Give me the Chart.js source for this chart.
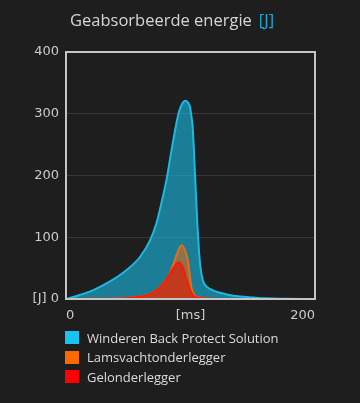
<!DOCTYPE html>
<html>
<head>
<meta charset="utf-8">
<script src="https://cdn.jsdelivr.net/npm/chart.js@4"></script>
<style>
  html, body { margin: 0; padding: 0; background: #1e1e1e; width: 360px; height: 403px; overflow: hidden; }
  #wrap { position: relative; width: 360px; height: 403px; }
  #title { position: absolute; left: 70px; top: 9px; font: 16.5px "Open Sans", sans-serif; color: #d6d6d6; line-height: 22px; white-space: nowrap; }
  #title .unit { color: #1aaee0; margin-left: 7px; }
  #legend { position: absolute; left: 65px; top: 328px; font: 13px "Open Sans", sans-serif; color: #dcdcdc; }
  #legend .row { display: flex; align-items: center; height: 19.5px; white-space: nowrap; }
  #legend .box { width: 14px; height: 13px; margin-right: 8px; }
  canvas { position: absolute; left: 0; top: 0; }
</style>
</head>
<body>
<div id="wrap">
  <canvas id="c" width="360" height="403"></canvas>
  <div id="title">Geabsorbeerde energie<span class="unit">[J]</span></div>
  <div id="legend"></div>
</div>
<script>
// Series labels
const seriesLabels = ["Winderen Back Protect Solution", "Lamsvachtonderlegger", "Gelonderlegger"];

// Winderen Back Protect Solution: time [ms] and energy [J]
const xWinderen = [0, 11, 22, 35, 48.7, 59.4, 67.5, 72.8, 76.8, 80.9, 83.5, 85, 87.5, 89, 91, 93, 95.8, 98, 99.6, 101, 101.7, 103.6, 105.5, 107.6, 109.8, 113, 118, 124, 130, 140, 150, 160, 175, 200];
const yWinderen = [0, 6.5, 14.5, 28, 47, 68, 95, 124, 157, 195, 226, 244, 272, 288, 305, 315, 321, 318, 311, 292, 280, 203, 122, 58, 31, 20, 14, 10, 7, 4, 2.5, 1.2, 0.5, 0];

// Lamsvachtonderlegger
const xLamsvacht = [0, 40, 50, 60, 67.5, 72.8, 78.2, 83.5, 86.2, 88.9, 92.9, 96.4, 98.2, 99.6, 100.9, 103.6, 108, 115, 130, 200];
const yLamsvacht = [0, 0.3, 1.5, 4, 8, 14.5, 25, 42, 56, 72, 87, 74, 58, 36, 17, 5, 2, 0.5, 0, 0];

// Gelonderlegger
const xGel = [0, 40, 50, 60, 67.5, 72.8, 78.2, 83.5, 87.5, 91, 94.2, 97, 99.6, 102.2, 106, 115, 130, 200];
const yGel = [0, 0.3, 1.5, 4, 8, 14.5, 25, 41, 54, 59.4, 50, 31, 15, 6, 2, 0.5, 0, 0];

// Axis tick labels
const xTickLabels = { 0: "0", 100: "[ms]", 200: "200" };
const yTickLabels = { 0: "[J] 0", 100: "100", 200: "200", 300: "300", 400: "400" };

const lineColors = ["#1bb9e4", "#e0701e", "#ff1a00"];
const fillColors = ["rgba(26,188,230,0.6)", "rgba(255,106,0,0.5)", "rgba(230,20,0,0.6)"];
const legendColors = ["#19c3f0", "#ff6a00", "#ff0000"];

const toPts = (xs, ys) => xs.map((x, i) => ({ x: x, y: ys[i] }));

const frame = {
  id: 'frame',
  afterDatasetsDraw(chart) {
    const a = chart.chartArea, ctx = chart.ctx;
    ctx.save();
    ctx.strokeStyle = '#c4c4c4';
    ctx.lineWidth = 2;
    ctx.strokeRect(a.left, a.top, a.right - a.left, a.bottom - a.top);
    ctx.restore();
  }
};

const mk = (i, xs, ys, order) => ({
  label: seriesLabels[i],
  data: toPts(xs, ys),
  borderColor: lineColors[i],
  backgroundColor: fillColors[i],
  borderWidth: 2,
  fill: 'origin',
  pointRadius: 0,
  cubicInterpolationMode: 'monotone',
  order: order
});

new Chart(document.getElementById('c'), {
  type: 'line',
  data: {
    datasets: [
      mk(0, xWinderen, yWinderen, 3),
      mk(1, xLamsvacht, yLamsvacht, 2),
      mk(2, xGel, yGel, 1)
    ]
  },
  options: {
    responsive: false,
    animation: false,
    devicePixelRatio: 1,
    layout: { padding: { left: 0, top: 52, right: 45, bottom: 74 } },
    plugins: { legend: { display: false }, title: { display: false }, tooltip: { enabled: false } },
    scales: {
      x: {
        type: 'linear', min: 0, max: 200,
        afterFit(s) { s.height = 30; },
        grid: { display: false },
        border: { display: false },
        ticks: {
          stepSize: 100, align: 'inner', padding: 1, color: '#cccccc',
          font: { family: 'DejaVu Sans', size: 13 },
          callback: v => xTickLabels[v]
        }
      },
      y: {
        min: 0, max: 400,
        afterFit(s) { s.width = 66; },
        grid: { color: '#383838', lineWidth: 1, drawTicks: false },
        border: { display: false },
        ticks: {
          stepSize: 100, padding: 7, color: '#cccccc',
          font: { family: 'DejaVu Sans', size: 13 },
          callback: v => yTickLabels[v]
        }
      }
    }
  },
  plugins: [frame]
});

const lg = document.getElementById('legend');
seriesLabels.forEach((t, i) => {
  const r = document.createElement('div');
  r.className = 'row';
  const b = document.createElement('div');
  b.className = 'box';
  b.style.background = legendColors[i];
  const s = document.createElement('span');
  s.textContent = t;
  r.appendChild(b); r.appendChild(s);
  lg.appendChild(r);
});
</script>
</body>
</html>
